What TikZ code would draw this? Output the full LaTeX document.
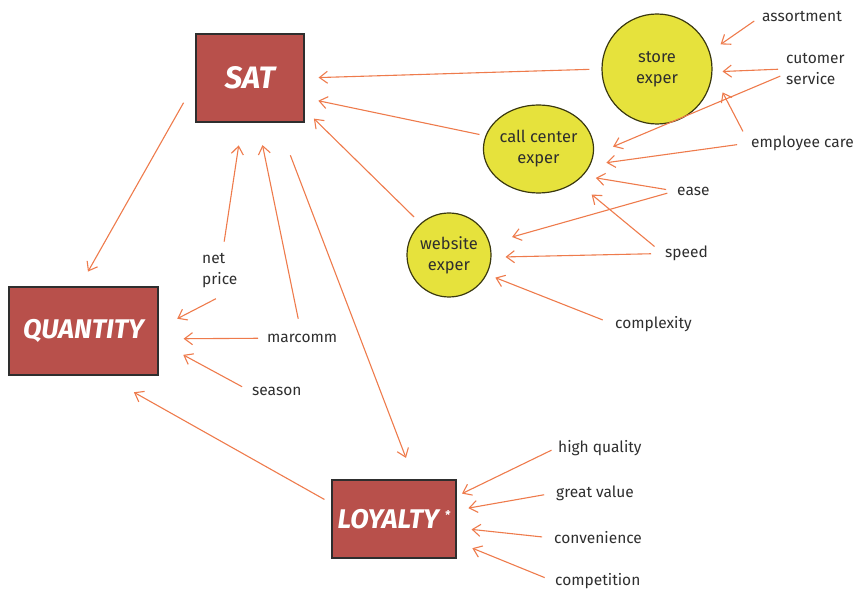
\documentclass[tikz,border=0pt]{standalone}
\usepackage{fontspec}
\setmainfont{Fira Sans}
\usepackage{tikz}
\usetikzlibrary{shapes.geometric,arrows.meta}
\definecolor{kpired}{HTML}{B8504B}
\definecolor{experyellow}{HTML}{E6E23C}
\definecolor{arrorange}{HTML}{EE7B4C}
\definecolor{inkgray}{HTML}{2E2E2E}

\begin{document}
\begin{tikzpicture}[x=1pt,y=-1pt,
  kpi/.style={rectangle,draw=inkgray,line width=1.2pt,fill=kpired,text=white,inner sep=0pt,font=\fontsize{27}{30}\selectfont\bfseries\itshape},
  exper/.style={circle,draw=black!75!experyellow,line width=1.2pt,fill=experyellow,inner sep=0pt,align=center,text=inkgray,font=\fontsize{16.5}{21}\selectfont},
  lbl/.style={anchor=west,inner sep=2pt,text=inkgray,font=\fontsize{15.5}{21}\selectfont},
  arr/.style={-{Straight Barb[length=8pt,width=12pt]},line width=1.1pt,draw=arrorange}
]
\useasboundingbox (0,0) rectangle (855,593);

% Outcomes
\node[kpi,minimum width=108pt,minimum height=88pt,font=\fontsize{31}{34}\selectfont\bfseries\itshape] (sat) at (250,78) {SAT};
\node[kpi,minimum width=149pt,minimum height=88pt] (qty) at (83.5,331)  {QUANTITY};
\node[kpi,minimum width=124pt,minimum height=78pt] (loy) at (394,519)   {LOYALTY\ \raisebox{9pt}{\fontsize{12}{12}\selectfont *}};

% Experiences
\node[exper,minimum size=110pt] (store) at (657,69)  {store\\exper};
\node[exper,ellipse,minimum width=103pt,minimum height=88pt] (call) at (538.5,149) {call center\\exper};
\node[exper,minimum size=84pt] (web) at (449,255) {website\\exper};

% Drivers
\node[lbl] (ast)  at (760,17)    {assortment};
\node[lbl,align=left] (cs) at (784,69) {cutomer\\service};
\node[lbl] (emp)  at (749,143)   {employee care};
\node[lbl] (ease) at (675,191)   {ease};
\node[lbl] (spd)  at (663,253.5) {speed};
\node[lbl] (cplx) at (613,324)   {complexity};
\node[lbl,align=left] (np) at (200,271) {net\\price};
\node[lbl] (mc)   at (265,338)   {marcomm};
\node[lbl] (ssn)  at (250,391)   {season};
\node[lbl] (hq)   at (556,448)   {high quality};
\node[lbl] (gv)   at (554,493)   {great value};
\node[lbl] (conv) at (552,538)   {convenience};
\node[lbl] (comp) at (553,581)   {competition};

% Arrows into SAT
\draw[arr,shorten <=12pt,shorten >=14pt] (store.west) -- (sat.east);
\draw[arr,shorten <=6pt,shorten >=14pt]  (call.166) -- (sat.-20);
\draw[arr,shorten <=9pt,shorten >=13pt]  (web.132) -- (sat.-30);
\draw[arr,shorten <=10pt,shorten >=23pt] (np) -- (sat.-100);
\draw[arr,shorten <=13pt,shorten >=23pt] (mc) -- (sat.-80);

% Arrows out of SAT
\draw[arr,shorten <=24pt,shorten >=17pt] (sat.184) -- (qty.95);
\draw[arr,shorten <=35pt,shorten >=23pt] (sat.-58) -- (loy.63);

% Arrows into QUANTITY
\draw[arr,shorten <=18pt,shorten >=21pt] (np.-58) -- (qty.2);
\draw[arr,shorten <=7pt,shorten >=25pt]  (mc) -- (qty.-6);
\draw[arr,shorten <=9pt,shorten >=28pt]  (ssn.west) -- (qty.-8);
\draw[arr,shorten <=8pt,shorten >=34pt]  (loy.166) -- (qty.-65);

% Arrows into the experiences
\draw[arr,shorten <=7pt,shorten >=13pt]  (ast.west) -- (store.18);
\draw[arr,shorten <=6pt,shorten >=10pt]  (cs.west) -- (store.-3);
\draw[arr,shorten <=4pt,shorten >=21pt]  (cs.190) -- (call.-6);
\draw[arr,shorten <=13pt,shorten >=22pt] (emp.west) -- (store.-4);
\draw[arr,shorten <=12pt,shorten >=16pt] (emp.west) -- (call.-17);
\draw[arr,shorten <=9pt,shorten >=13pt]  (ease.west) -- (call.-31);
\draw[arr,shorten <=8pt,shorten >=23pt]  (ease.west) -- (web.16);
\draw[arr,shorten <=11pt,shorten >=20pt] (spd.west) -- (call.-41);
\draw[arr,shorten <=12pt,shorten >=14pt] (spd.west) -- (web.-3);
\draw[arr,shorten <=11pt,shorten >=9pt]  (cplx.west) -- (web.-27);

% Arrows into LOYALTY
\draw[arr,shorten <=5pt,shorten >=6pt]   (hq.west) -- (loy.20);
\draw[arr,shorten <=10pt,shorten >=12pt] (gv.west) -- (loy.8);
\draw[arr,shorten <=10pt,shorten >=15pt] (conv.west) -- (loy.-8);
\draw[arr,shorten <=9pt,shorten >=17pt]  (comp.west) -- (loy.-20);

\end{tikzpicture}
\end{document}
